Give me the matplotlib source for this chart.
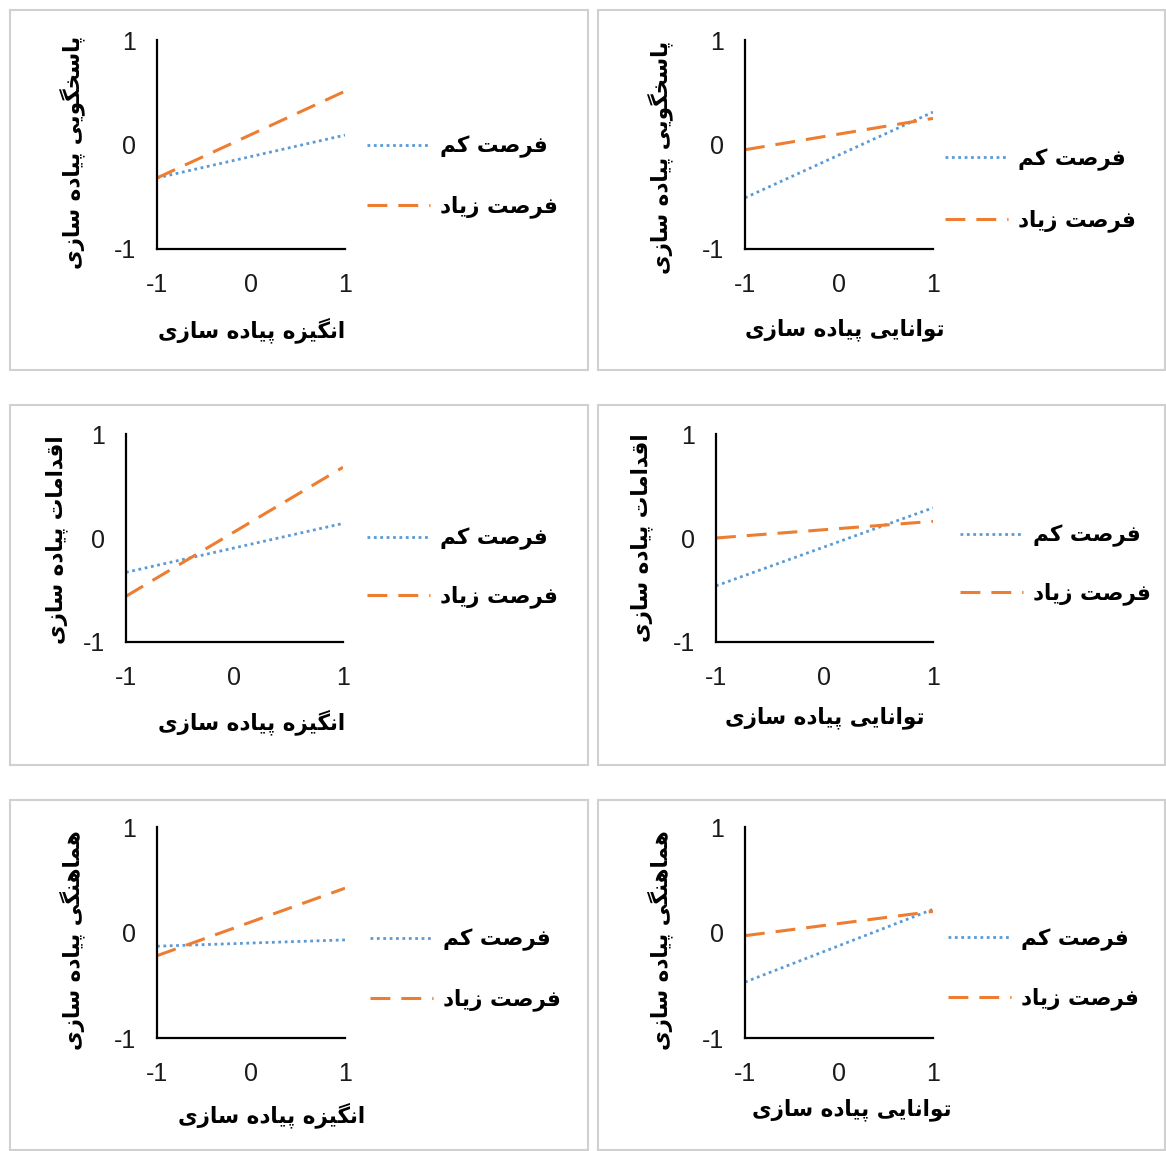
import matplotlib
matplotlib.use("Agg")
import matplotlib.pyplot as plt
from matplotlib.patches import Rectangle

# ---------------- data ----------------
x_levels = [-1, 1]
low_label = "فرصت کم"
high_label = "فرصت زیاد"

x_titles = ["انگیزه پیاده سازی", "توانایی پیاده سازی",
            "انگیزه پیاده سازی", "توانایی پیاده سازی",
            "انگیزه پیاده سازی", "توانایی پیاده سازی"]
y_titles = ["پاسخگویی پیاده سازی", "پاسخگویی پیاده سازی",
            "اقدامات پیاده سازی", "اقدامات پیاده سازی",
            "هماهنگی پیاده سازی", "هماهنگی پیاده سازی"]

low_values = [[-0.32, 0.09], [-0.51, 0.31],
              [-0.33, 0.14], [-0.46, 0.29],
              [-0.13, -0.07], [-0.47, 0.22]]
high_values = [[-0.32, 0.51], [-0.05, 0.25],
               [-0.56, 0.68], [0.00, 0.16],
               [-0.22, 0.42], [-0.03, 0.20]]

tick_values = [-1, 0, 1]
tick_labels = ["-1", "0", "1"]

# ---------------- Persian shaping helper ----------------
FORMS = {
    '\u0627': ('\uFE8D', '\uFE8E', None, None),
    '\u0628': ('\uFE8F', '\uFE90', '\uFE91', '\uFE92'),
    '\u067E': ('\uFB56', '\uFB57', '\uFB58', '\uFB59'),
    '\u062A': ('\uFE95', '\uFE96', '\uFE97', '\uFE98'),
    '\u062E': ('\uFEA5', '\uFEA6', '\uFEA7', '\uFEA8'),
    '\u062F': ('\uFEA9', '\uFEAA', None, None),
    '\u0631': ('\uFEAD', '\uFEAE', None, None),
    '\u0632': ('\uFEAF', '\uFEB0', None, None),
    '\u0633': ('\uFEB1', '\uFEB2', '\uFEB3', '\uFEB4'),
    '\u0635': ('\uFEB9', '\uFEBA', '\uFEBB', '\uFEBC'),
    '\u0641': ('\uFED1', '\uFED2', '\uFED3', '\uFED4'),
    '\u0642': ('\uFED5', '\uFED6', '\uFED7', '\uFED8'),
    '\u06A9': ('\uFB8E', '\uFB8F', '\uFB90', '\uFB91'),
    '\u06AF': ('\uFB92', '\uFB93', '\uFB94', '\uFB95'),
    '\u0645': ('\uFEE1', '\uFEE2', '\uFEE3', '\uFEE4'),
    '\u0646': ('\uFEE5', '\uFEE6', '\uFEE7', '\uFEE8'),
    '\u0647': ('\uFEE9', '\uFEEA', '\uFEEB', '\uFEEC'),
    '\u0648': ('\uFEED', '\uFEEE', None, None),
    '\u06CC': ('\uFBFC', '\uFBFD', '\uFBFE', '\uFBFF'),
}


def fa(text):
    chars = list(text)
    out = []
    for i, c in enumerate(chars):
        if c not in FORMS:
            out.append(c)
            continue
        prev = chars[i - 1] if i > 0 else None
        nxt = chars[i + 1] if i + 1 < len(chars) else None
        jp = prev in FORMS and FORMS[prev][2] is not None
        jn = nxt in FORMS and FORMS[c][2] is not None
        iso, fin, ini, med = FORMS[c]
        if jp and jn:
            out.append(med)
        elif jp:
            out.append(fin)
        elif jn:
            out.append(ini)
        else:
            out.append(iso)
    return ''.join(out)[::-1]


# ---------------- layout (pixels) ----------------
W, H = 1166, 1151
fig = plt.figure(figsize=(W / 100, H / 100), dpi=100)
plt.rcParams['font.family'] = ['Liberation Sans', 'DejaVu Sans']

BLUE = '#5B9BD5'
ORANGE = '#ED7D31'
FA_SIZE = 15.5

boxes = [(10, 10, 588, 370), (598, 10, 1165, 370),
         (10, 405, 588, 765), (598, 405, 1165, 765),
         (10, 800, 588, 1150), (598, 800, 1165, 1150)]
axes_px = [(157, 40, 345, 249), (745, 40, 933, 249),
           (126, 434, 343, 642), (716, 434, 933, 642),
           (157, 827, 345, 1038), (745, 827, 933, 1038)]
ylabel_px = [(72, 152), (660, 157), (57, 540), (642, 538), (72, 940), (660, 940)]
xlabel_px = [(252, 330), (845, 330), (252, 722), (825, 718), (272, 1115), (852, 1110)]
legend_px = [(367, 177), (945, 190), (367, 568), (960, 565), (370, 970), (948, 969)]
legend_spacing = [59, 60, 57, 57, 59, 58]


def fx(x):
    return x / W


def fy(y):
    return 1 - y / H


for i in range(6):
    x0, y0, x1, y1 = boxes[i]
    fig.patches.append(Rectangle((fx(x0), fy(y1)), fx(x1) - fx(x0), fy(y0) - fy(y1),
                                 transform=fig.transFigure, fill=False,
                                 edgecolor='#d0d0d0', linewidth=1.5))
    l, t, r, b = axes_px[i]
    ax = fig.add_axes([fx(l), fy(b), fx(r) - fx(l), fy(t) - fy(b)])
    ax.plot(x_levels, low_values[i], color=BLUE, linestyle=(0, (1, 1.3)),
            linewidth=2.0, label=fa(low_label))
    ax.plot(x_levels, high_values[i], color=ORANGE, linestyle=(0, (6.5, 3.6)),
            linewidth=2.2, label=fa(high_label))
    ax.set_xlim(-1, 1)
    ax.set_ylim(-1, 1)
    ax.set_xticks(tick_values)
    ax.set_xticklabels(tick_labels)
    ax.set_yticks(tick_values)
    ax.set_yticklabels(tick_labels)
    ax.tick_params(length=0, labelsize=18, colors='#1a1a1a')
    ax.tick_params(axis='x', pad=17)
    ax.tick_params(axis='y', pad=15)
    for s in ['top', 'right']:
        ax.spines[s].set_visible(False)
    for s in ['left', 'bottom']:
        ax.spines[s].set_color('black')
        ax.spines[s].set_linewidth(1.6)
    ax.patch.set_alpha(0)

    # legend
    lx, ly = legend_px[i]
    fs_px = FA_SIZE * 100 / 72
    leg = ax.legend(loc='center left', bbox_to_anchor=(fx(lx), fy(ly)),
                    bbox_transform=fig.transFigure, frameon=False,
                    borderpad=0, borderaxespad=0, handlelength=63 / fs_px,
                    handletextpad=10 / fs_px,
                    labelspacing=(legend_spacing[i] - fs_px) / fs_px,
                    prop={'family': 'DejaVu Sans', 'weight': 'bold', 'size': FA_SIZE})

    yx, yy = ylabel_px[i]
    fig.text(fx(yx), fy(yy), fa(y_titles[i]), rotation=90, ha='center', va='center',
             fontsize=FA_SIZE, fontweight='bold', family='DejaVu Sans')
    xx, xy = xlabel_px[i]
    fig.text(fx(xx), fy(xy), fa(x_titles[i]), ha='center', va='center',
             fontsize=FA_SIZE, fontweight='bold', family='DejaVu Sans')

fig.savefig('out.png', dpi=100, facecolor='white')
